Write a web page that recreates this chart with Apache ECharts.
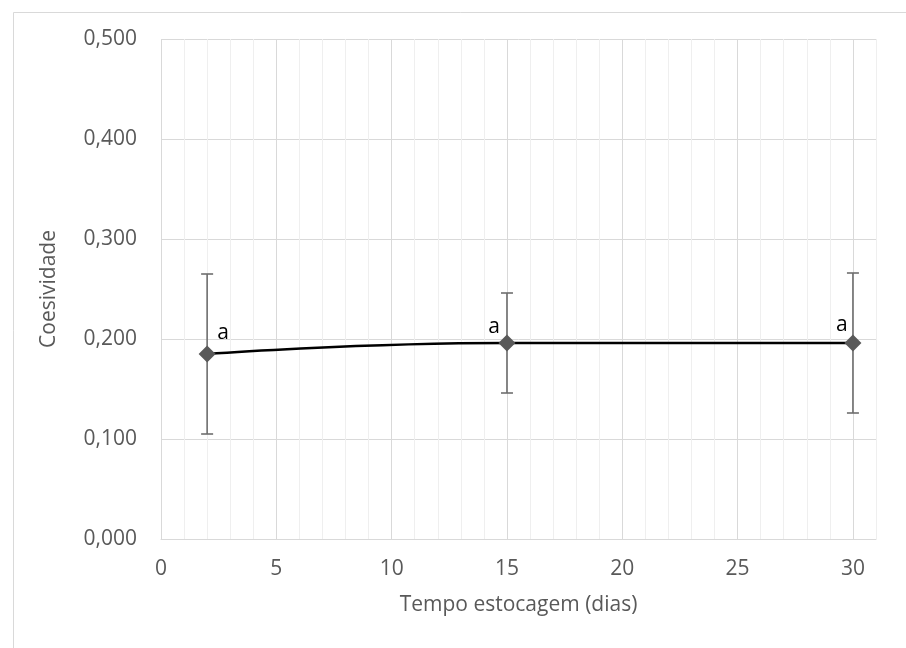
<!DOCTYPE html>
<html>
<head>
<meta charset="utf-8">
<script src="https://cdn.jsdelivr.net/npm/echarts@6/dist/echarts.min.js"></script>
<style>
  html, body { margin: 0; padding: 0; background: #fff; }
  #chart { width: 906px; height: 648px; }
</style>
</head>
<body>
<div id="chart"></div>
<script>
// dias de estocagem, média da coesividade e desvio
const days = [2, 15, 30];
const cohesion = [0.185, 0.196, 0.196];
const deviation = [0.080, 0.050, 0.070];
const letters = ['a', 'a', 'a'];
const yTicks = [0, 0.1, 0.2, 0.3, 0.4, 0.5];

const FONT = '"Open Sans", "Liberation Sans", sans-serif';
const fmtComma = (v) => Number(v).toFixed(3).replace('.', ',');

// deslocamento das letras em relação ao marcador
const letterOffsets = [[16, 3], [-13, 8], [-11, 6]];

const chart = echarts.init(document.getElementById('chart'));

const lineData = days.map((d, i) => ({
  value: [d, cohesion[i]],
  label: { show: true, formatter: letters[i], offset: letterOffsets[i] },
}));
const barData = days.map((d, i) => [d, cohesion[i] - deviation[i], cohesion[i] + deviation[i]]);

const option = {
  backgroundColor: '#fff',
  animation: false,
  graphic: [
    {
      type: 'rect',
      shape: { x: 13.5, y: 12.5, width: 1000, height: 1000 },
      style: { fill: 'none', stroke: '#d9d9d9', lineWidth: 1 },
      silent: true,
    },
  ],
  grid: { left: 161, right: 30, top: 39, bottom: 109, containLabel: false },
  xAxis: {
    type: 'value',
    min: 0,
    max: 31,
    interval: 1,
    name: 'Tempo estocagem (dias)',
    nameLocation: 'middle',
    nameGap: 56,
    nameTextStyle: { fontFamily: FONT, fontSize: 21, color: '#595959' },
    axisLine: { show: true, onZero: false, lineStyle: { color: '#d9d9d9', width: 1 } },
    axisTick: { show: false },
    axisLabel: {
      margin: 20,
      fontFamily: FONT,
      fontSize: 21,
      color: '#595959',
      showMaxLabel: false,
      formatter: (v) => (v % 5 === 0 && v <= 30 ? String(v) : ''),
    },
    splitLine: {
      show: true,
      lineStyle: {
        width: 1,
        color: ['#d9d9d9', '#efefef', '#efefef', '#efefef', '#efefef'],
      },
    },
  },
  yAxis: {
    type: 'value',
    min: yTicks[0],
    max: yTicks[yTicks.length - 1],
    interval: 0.1,
    name: 'Coesividade',
    nameLocation: 'middle',
    nameGap: 101,
    nameTextStyle: { fontFamily: FONT, fontSize: 21, color: '#595959' },
    axisLine: { show: false },
    axisTick: { show: false },
    axisLabel: { margin: 24, fontFamily: FONT, fontSize: 21, color: '#595959', formatter: fmtComma },
    splitLine: { show: true, lineStyle: { color: '#d9d9d9', width: 1 } },
  },
  series: [
    {
      type: 'custom',
      name: 'desvio',
      z: 3,
      data: barData,
      renderItem(params, api) {
        const x = api.value(0);
        const lo = api.coord([x, api.value(1)]);
        const hi = api.coord([x, api.value(2)]);
        const half = 6;
        const style = { stroke: '#6e6e6e', lineWidth: 1.6 };
        return {
          type: 'group',
          children: [
            { type: 'line', shape: { x1: lo[0], y1: lo[1], x2: hi[0], y2: hi[1] }, style },
            { type: 'line', shape: { x1: hi[0] - half, y1: hi[1], x2: hi[0] + half, y2: hi[1] }, style },
            { type: 'line', shape: { x1: lo[0] - half, y1: lo[1], x2: lo[0] + half, y2: lo[1] }, style },
          ],
        };
      },
    },
    {
      type: 'line',
      name: 'Coesividade',
      z: 4,
      data: lineData,
      smooth: 0.5,
      symbol: 'diamond',
      symbolSize: 17,
      lineStyle: { color: '#000', width: 2.4 },
      itemStyle: { color: '#595959' },
      label: {
        position: 'top',
        distance: 5,
        fontFamily: FONT,
        fontSize: 21,
        color: '#000',
      },
    },
  ],
};

chart.setOption(option);
</script>
</body>
</html>
